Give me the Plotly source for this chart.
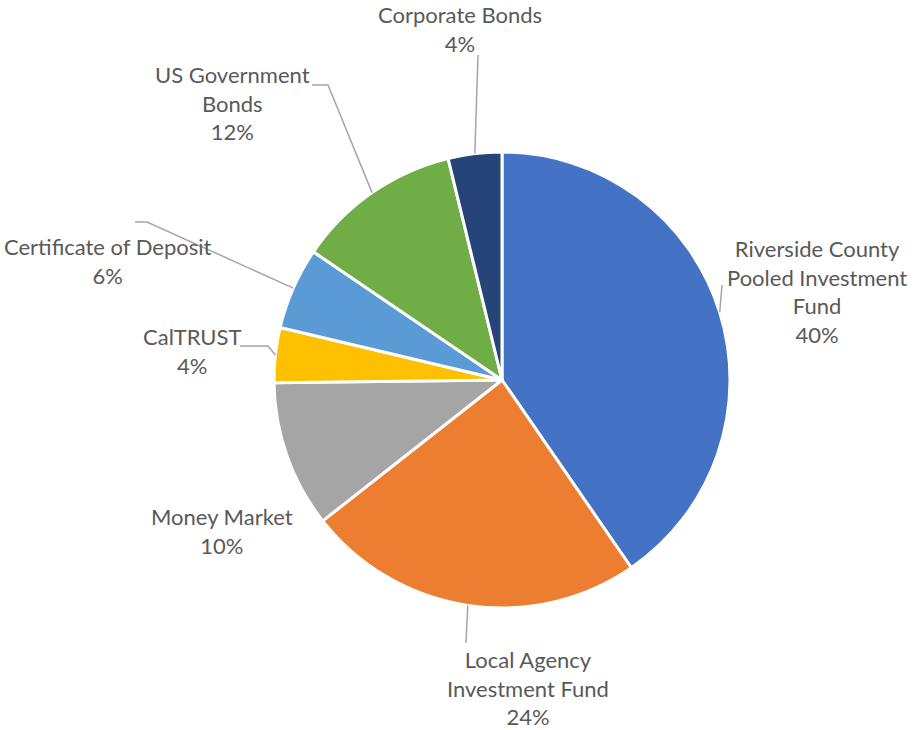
import math
import plotly.graph_objects as go

# ---- data ----
categories = [
    "Riverside County Pooled Investment Fund",
    "Local Agency Investment Fund",
    "Money Market",
    "CalTRUST",
    "Certificate of Deposit",
    "US Government Bonds",
    "Corporate Bonds",
]
values = [40.4, 24.0, 10.4, 3.9, 5.8, 11.7, 3.8]
label_lines = [
    "Riverside County<br>Pooled Investment<br>Fund",
    "Local Agency<br>Investment Fund",
    "Money Market",
    "CalTRUST",
    "Certificate of Deposit",
    "US Government<br>Bonds",
    "Corporate Bonds",
]
colors = ["#4472C4", "#ED7D31", "#A5A5A5", "#FFC000", "#5B9BD5", "#70AD47", "#264478"]

# ---- layout (pixel) ----
W, H = 915, 730
CX, CY, R = 502, 380, 228
label_pos = [(817, 291), (528, 688), (222, 531), (192, 351), (108, 261), (232, 103), (460, 29)]
# leader line start points (None = no line)
leader_start = [
    [(722, 285)],
    [(466, 643)],
    None,
    [(240, 346), (268, 346)],
    [(135, 222), (147, 222)],
    [(312, 85), (328, 85)],
    [(478, 55)],
]

def px(x):
    return x / W

def py(y):
    return 1 - y / H

fig = go.Figure(go.Pie(
    labels=categories,
    values=values,
    sort=False,
    direction="clockwise",
    rotation=0,
    marker=dict(colors=colors, line=dict(color="white", width=3)),
    textinfo="none",
    hoverinfo="label+percent",
    domain=dict(x=[px(CX - R), px(CX + R)], y=[py(CY + R), py(CY - R)]),
    showlegend=False,
))

total = sum(values)
annotations = []
shapes = []
cum = 0.0
for i, v in enumerate(values):
    frac_mid = (cum + v / 2) / total
    cum += v
    ang = 2 * math.pi * frac_mid
    ex = CX + R * math.sin(ang)
    ey = CY - R * math.cos(ang)
    pct = round(v / total * 100)
    lx, ly = label_pos[i]
    annotations.append(dict(
        x=px(lx), y=py(ly), xref="paper", yref="paper",
        text=f"{label_lines[i]}<br>{pct}%",
        showarrow=False, xanchor="center", yanchor="middle", align="center",
        font=dict(family="Lato", size=22, color="#595959"),
    ))
    if leader_start[i]:
        pts = leader_start[i] + [(ex, ey)]
        path = "M " + " L ".join(f"{px(x):.5f},{py(y):.5f}" for x, y in pts)
        shapes.append(dict(type="path", path=path, xref="paper", yref="paper",
                           line=dict(color="#A6A6A6", width=1.5)))

fig.update_layout(
    width=W, height=H,
    margin=dict(l=0, r=0, t=0, b=0),
    paper_bgcolor="white", plot_bgcolor="white",
    annotations=annotations,
    shapes=shapes,
)

fig.write_html(
    "out.html",
    config={"displayModeBar": False},
    post_script="document.body.style.margin='0';document.body.style.overflow='hidden';",
)
